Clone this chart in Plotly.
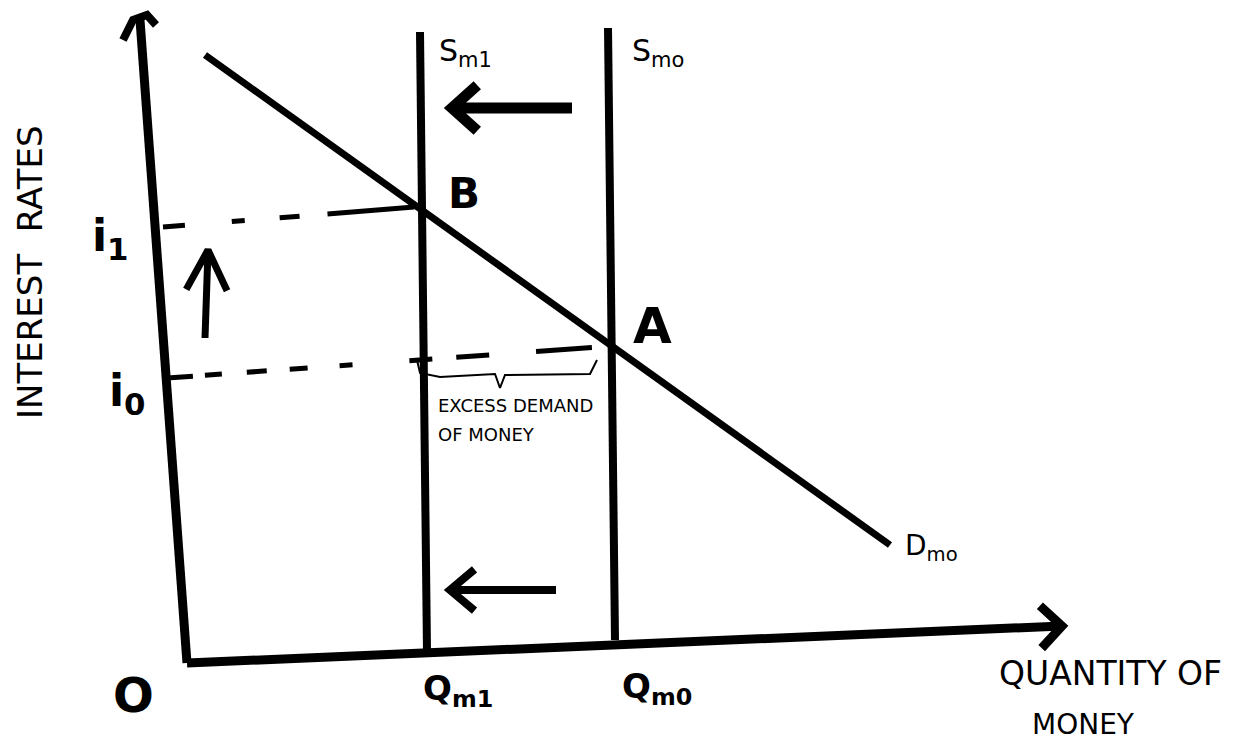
import numpy as np
import plotly.graph_objects as go

# sketch units: quantity of money across, interest rate up, origin at "O"
y_axis_x = [0, -4.7]
y_axis_y = [0, 64.3]
y_hook_x = [-6.4, -5.4, -4.0, -3.1]
y_hook_y = [62.3, 64.3, 64.8, 63.8]
x_axis_tail = (0, 0)
x_axis_head = (87.5, 3.7)

# money supply before / after, and money demand
sm1_x = [23.3, 24.0]
sm1_y = [63.1, 1.1]
sm0_x = [42.1, 42.8]
sm0_y = [63.5, 2.3]
dm0_x = [1.8, 70.3]
dm0_y = [60.8, 11.8]

# interest rate guide lines (i1 up to B, i0 across to A)
i1_x = [-2.4, 22.8]
i1_y = [43.6, 45.6]
i0_x = [-2.0, 41.3]
i0_y = [28.5, 31.6]

# brace marking the excess demand for money
brace_x = [23.0, 23.3, 25.3, 30.8, 31.3, 31.8, 40.3, 41.0]
brace_y = [30.3, 29.0, 28.6, 28.9, 27.5, 28.8, 28.9, 30.3]

# shift arrows (tail, head)
up_arrow = [(1.8, 32.5), (2.1, 41.3)]
top_arrow = [(38.5, 55.5), (26.5, 55.5)]
bottom_arrow = [(36.9, 7.3), (26.3, 7.3)]


def chevron(tail, head, arm, angle):
    # open arrow head drawn as two short strokes back from the tip
    t = np.array(tail, dtype=float)
    h = np.array(head, dtype=float)
    back = (t - h) / np.linalg.norm(t - h)
    a = np.radians(angle)
    pts = []
    for s in (a, -a):
        r = np.array([back[0]*np.cos(s) - back[1]*np.sin(s),
                      back[0]*np.sin(s) + back[1]*np.cos(s)])
        pts.append(h + arm*r)
    xs = [t[0], h[0], None, pts[0][0], h[0], pts[1][0]]
    ys = [t[1], h[1], None, pts[0][1], h[1], pts[1][1]]
    return xs, ys


def line(x, y, width, dash="solid"):
    return go.Scatter(x=x, y=y, mode="lines",
                      line=dict(color="black", width=width, dash=dash),
                      hoverinfo="skip")


fig = go.Figure()

fig.add_trace(line(y_axis_x, y_axis_y, 9))
fig.add_trace(line(y_hook_x, y_hook_y, 8))
ax_x, ax_y = chevron(x_axis_tail, x_axis_head, 3.0, 45)
fig.add_trace(line(ax_x, ax_y, 9))

fig.add_trace(line(sm1_x, sm1_y, 8))
fig.add_trace(line(sm0_x, sm0_y, 8))
fig.add_trace(line(dm0_x, dm0_y, 7))

fig.add_trace(line(i1_x, i1_y, 5, "22px,47px,13px,35px,20px,28px,87px,100px"))
fig.add_trace(line(i0_x, i0_y, 5,
                   "26px,12px,17px,25px,20px,23px,18px,32px,13px,57px,"
                   "23px,24px,33px,47px,56px,50px"))
fig.add_trace(line(brace_x, brace_y, 2))

for arr, arm, ang, w in [(up_arrow, 4.5, 27, 7),
                         (top_arrow, 3.4, 42, 11),
                         (bottom_arrow, 3.2, 40, 8)]:
    xs, ys = chevron(arr[0], arr[1], arm, ang)
    fig.add_trace(line(xs, ys, w))

font = "DejaVu Sans"
labels = [
    ("S<sub>m1</sub>", 25.0, 61.1, 30, "left"),
    ("S<sub>mo</sub>", 44.3, 61.1, 30, "left"),
    ("<b>B</b>", 27.7, 47.0, 42, "center"),
    ("<b>A</b>", 46.5, 33.7, 50, "center"),
    ("<b>i<sub>1</sub></b>", -7.7, 42.5, 44, "center"),
    ("<b>i<sub>0</sub></b>", -6.0, 27.0, 44, "center"),
    ("<b>O</b>", -5.4, -3.2, 48, "center"),
    ("<b>Q<sub>m1</sub></b>", 27.1, -2.7, 34, "center"),
    ("<b>Q<sub>m0</sub></b>", 47.0, -2.5, 34, "center"),
    ("D<sub>mo</sub>", 71.6, 11.6, 28, "left"),
    ("QUANTITY OF", 92.3, -1.0, 33, "center"),
    ("MONEY", 89.6, -6.1, 28, "center"),
    ("EXCESS DEMAND", 24.9, 25.8, 18, "left"),
    ("OF MONEY", 24.9, 22.9, 18, "left"),
]
for text, x, y, size, anchor in labels:
    fig.add_annotation(x=x, y=y, text=text, showarrow=False, xanchor=anchor,
                       yanchor="middle", font=dict(family=font, size=size, color="black"))

fig.add_annotation(x=-15.7, y=39.0, text="INTEREST  RATES", textangle=-90,
                   showarrow=False, font=dict(family=font, size=34, color="black"))

# page body keeps its 8px margin, so the figure fills the rest of the window
fig.update_layout(
    width=1227, height=736,
    margin=dict(l=0, r=0, t=0, b=0),
    showlegend=False,
    paper_bgcolor="white", plot_bgcolor="white",
    xaxis=dict(range=[-17.9, 104.8], visible=False, fixedrange=True),
    yaxis=dict(range=[-8.1, 65.5], visible=False, fixedrange=True),
)

fig.write_html("out.html", config={"displayModeBar": False})
